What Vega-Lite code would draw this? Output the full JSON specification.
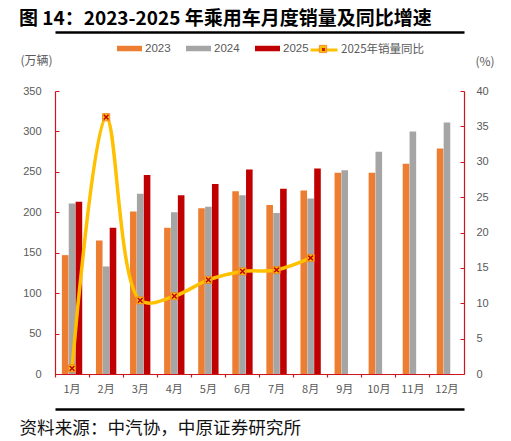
{
  "$schema": "https://vega.github.io/schema/vega-lite/v6.json",
  "width": 409,
  "height": 283,
  "autosize": {"type": "none"},
  "padding": {"left": 55, "top": 91, "right": 47, "bottom": 67},
  "background": "white",
  "config": {"view": {"stroke": null}, "font": "Liberation Sans"},
  "title": {
    "text": "图 14：2023-2025 年乘用车月度销量及同比增速",
    "anchor": "start",
    "frame": "group",
    "dx": -36,
    "offset": 3,
    "fontSize": 19,
    "fontWeight": "bold",
    "font": "Noto Sans CJK SC",
    "color": "#000000"
  },
  "datasets": {
    "sales": [
      {"month": "1月", "year": "2023", "sales": 147},
      {"month": "1月", "year": "2024", "sales": 211},
      {"month": "1月", "year": "2025", "sales": 213},
      {"month": "2月", "year": "2023", "sales": 165},
      {"month": "2月", "year": "2024", "sales": 133},
      {"month": "2月", "year": "2025", "sales": 181},
      {"month": "3月", "year": "2023", "sales": 201},
      {"month": "3月", "year": "2024", "sales": 223},
      {"month": "3月", "year": "2025", "sales": 246},
      {"month": "4月", "year": "2023", "sales": 181},
      {"month": "4月", "year": "2024", "sales": 200},
      {"month": "4月", "year": "2025", "sales": 221},
      {"month": "5月", "year": "2023", "sales": 205},
      {"month": "5月", "year": "2024", "sales": 207},
      {"month": "5月", "year": "2025", "sales": 235},
      {"month": "6月", "year": "2023", "sales": 226},
      {"month": "6月", "year": "2024", "sales": 221},
      {"month": "6月", "year": "2025", "sales": 253},
      {"month": "7月", "year": "2023", "sales": 209},
      {"month": "7月", "year": "2024", "sales": 199},
      {"month": "7月", "year": "2025", "sales": 229},
      {"month": "8月", "year": "2023", "sales": 227},
      {"month": "8月", "year": "2024", "sales": 217},
      {"month": "8月", "year": "2025", "sales": 254},
      {"month": "9月", "year": "2023", "sales": 249},
      {"month": "9月", "year": "2024", "sales": 252},
      {"month": "10月", "year": "2023", "sales": 249},
      {"month": "10月", "year": "2024", "sales": 275},
      {"month": "11月", "year": "2023", "sales": 260},
      {"month": "11月", "year": "2024", "sales": 300},
      {"month": "12月", "year": "2023", "sales": 279},
      {"month": "12月", "year": "2024", "sales": 311}
    ],
    "yoy": [
      {"month": "1月", "yoy": 0.8},
      {"month": "2月", "yoy": 36.3},
      {"month": "3月", "yoy": 10.4},
      {"month": "4月", "yoy": 11.0},
      {"month": "5月", "yoy": 13.3},
      {"month": "6月", "yoy": 14.5},
      {"month": "7月", "yoy": 14.7},
      {"month": "8月", "yoy": 16.4}
    ]
  },
  "layer": [
    {
      "data": {"name": "sales"},
      "mark": {"type": "bar"},
      "encoding": {
        "x": {
          "field": "month", "type": "nominal",
          "sort": ["1月","2月","3月","4月","5月","6月","7月","8月","9月","10月","11月","12月"],
          "scale": {"paddingInner": 0, "paddingOuter": 0},
          "axis": {
            "orient": "bottom",
            "domainColor": "#D0141E", "domainWidth": 1.2,
            "ticks": false,
            "labelAngle": 0, "labelFont": "Noto Sans CJK SC", "labelFontSize": 11,
            "labelColor": "#595959", "labelPadding": 9, "labelBaseline": "top",
            "title": "资料来源：中汽协，中原证券研究所",
            "titleX": -36, "titleY": 54, "titleAlign": "left", "titleBaseline": "middle",
            "titleFont": "Noto Sans CJK SC", "titleFontSize": 17.6, "titleFontWeight": "normal",
            "titleColor": "#111111", "titleAngle": 0
          }
        },
        "xOffset": {
          "field": "year", "type": "nominal",
          "scale": {"domain": ["2023","2024","2025"], "paddingOuter": 1.19, "paddingInner": 0.04}
        },
        "y": {
          "field": "sales", "type": "quantitative",
          "scale": {"domain": [0, 350], "nice": false},
          "axis": {
            "orient": "left",
            "values": [0,50,100,150,200,250,300,350],
            "grid": false,
            "domainColor": "#D0141E", "domainWidth": 1.2,
            "tickColor": "#D0141E", "tickSize": -4,
            "labelPadding": 18, "labelColor": "#595959", "labelFontSize": 11,
            "title": "(万辆)", "titleAngle": 0, "titleX": -35, "titleY": -31,
            "titleAlign": "left", "titleBaseline": "middle",
            "titleFont": "Noto Sans CJK SC", "titleFontSize": 12, "titleFontWeight": "normal",
            "titleColor": "#595959"
          }
        },
        "color": {
          "field": "year", "type": "nominal",
          "scale": {"domain": ["2023","2024","2025"], "range": ["#ED7D31","#A5A5A5","#C00000"]},
          "legend": {
            "orient": "none", "legendX": 62, "legendY": -55,
            "direction": "horizontal", "title": null, "padding": 0,
            "symbolType": "M-1,-0.22H1V0.22H-1Z", "symbolSize": 625,
            "symbolStrokeWidth": 0, "labelOffset": 3, "columnPadding": 15,
            "labelFontSize": 11.5, "labelColor": "#595959"
          }
        }
      }
    },
    {
      "data": {"name": "yoy"},
      "mark": {"type": "line", "interpolate": "catmull-rom", "strokeWidth": 3.5},
      "encoding": {
        "x": {
          "field": "month", "type": "nominal",
          "sort": ["1月","2月","3月","4月","5月","6月","7月","8月","9月","10月","11月","12月"],
          "axis": {
            "orient": "bottom", "bandPosition": 0,
            "domain": false, "labels": false, "title": null,
            "ticks": true, "tickColor": "#D0141E", "tickSize": 3, "tickWidth": 1.2
          }
        },
        "y": {
          "field": "yoy", "type": "quantitative",
          "scale": {"domain": [0, 40], "nice": false},
          "axis": {
            "orient": "right",
            "values": [0,5,10,15,20,25,30,35,40],
            "grid": false,
            "domainColor": "#D0141E", "domainWidth": 1.2,
            "tickColor": "#D0141E", "tickSize": -4,
            "labelPadding": 16, "labelColor": "#595959", "labelFontSize": 11,
            "title": "(%)", "titleAngle": 0, "titleX": 11, "titleY": -30,
            "titleAlign": "left", "titleBaseline": "middle",
            "titleFont": "Noto Sans CJK SC", "titleFontSize": 12, "titleFontWeight": "normal",
            "titleColor": "#595959"
          }
        },
        "stroke": {
          "datum": "2025年销量同比",
          "scale": {"range": ["#FFC000"]},
          "legend": {
            "orient": "none", "legendX": 254, "legendY": -56, "title": null, "padding": 0,
            "symbolType": "M-1,0H1", "symbolSize": 729, "symbolStrokeWidth": 3,
            "labelOffset": 2, "labelFontSize": 11.5, "labelColor": "#595959",
            "labelFont": "Noto Sans CJK SC", "zindex": 1
          }
        }
      }
    },
    {
      "data": {"name": "yoy"},
      "mark": {"type": "point", "shape": "square", "size": 52, "filled": true, "stroke": "#ED7D31", "strokeWidth": 0.8, "opacity": 1},
      "encoding": {
        "x": {
          "field": "month", "type": "nominal",
          "sort": ["1月","2月","3月","4月","5月","6月","7月","8月","9月","10月","11月","12月"],
          "axis": {
            "orient": "top", "offset": 59,
            "domainColor": "#000000", "domainWidth": 2.6,
            "labels": false, "ticks": false, "title": null
          }
        },
        "y": {
          "field": "yoy", "type": "quantitative",
          "scale": {"domain": [0, 40], "nice": false},
          "axis": null
        },
        "fill": {
          "datum": "m1",
          "scale": {"range": ["#FFC000"]},
          "legend": {
            "orient": "none", "legendX": 254, "legendY": -56, "title": null, "padding": 0,
            "symbolType": "M-0.27,-0.27H0.27V0.27H-0.27Z", "symbolSize": 729,
            "symbolStrokeColor": "#ED7D31", "symbolStrokeWidth": 0.8,
            "labelExpr": "''", "labelFontSize": 11.5, "zindex": 2
          }
        }
      }
    },
    {
      "data": {"name": "yoy"},
      "mark": {"type": "point", "shape": "M-1,-1L1,1M-1,1L1,-1", "size": 22, "filled": false, "stroke": "#C00000", "strokeWidth": 1.5},
      "encoding": {
        "x": {
          "field": "month", "type": "nominal",
          "sort": ["1月","2月","3月","4月","5月","6月","7月","8月","9月","10月","11月","12月"],
          "axis": {
            "orient": "bottom", "offset": 35,
            "domainColor": "#000000", "domainWidth": 2.6,
            "labels": false, "ticks": false, "title": null
          }
        },
        "y": {
          "field": "yoy", "type": "quantitative",
          "scale": {"domain": [0, 40], "nice": false},
          "axis": null
        },
        "opacity": {
          "datum": "m2",
          "scale": {"range": [1]},
          "legend": {
            "orient": "none", "legendX": 254, "legendY": -56, "title": null, "padding": 0,
            "symbolType": "M-0.09,-0.09L0.09,0.09M-0.09,0.09L0.09,-0.09", "symbolSize": 729,
            "symbolStrokeColor": "#C00000", "symbolFillColor": "transparent", "symbolStrokeWidth": 1.5,
            "labelExpr": "''", "labelFontSize": 11.5, "zindex": 3
          }
        }
      }
    }
  ],
  "resolve": {"scale": {"y": "independent"}, "axis": {"x": "independent"}}
}
